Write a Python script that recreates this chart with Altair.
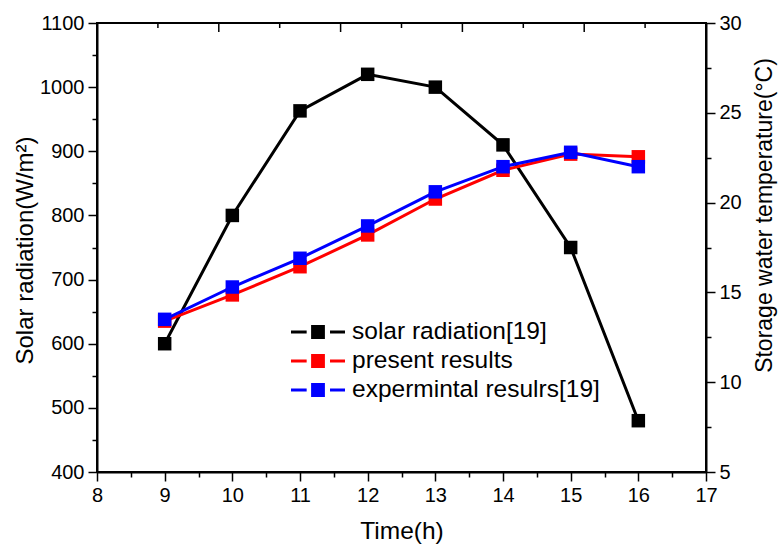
import altair as alt
import pandas as pd

# ---- data ----
time = [9, 10, 11, 12, 13, 14, 15, 16]
solar = [600, 800, 963, 1020, 1000, 910, 750, 480]
present = [13.4, 14.86, 16.43, 18.2, 20.2, 21.8, 22.7, 22.55]
experimental = [13.5, 15.3, 16.9, 18.7, 20.6, 22.0, 22.8, 22.0]

series_names = ["solar radiation[19]", "present results", "expermintal resulrs[19]"]
series_colors = ["#000000", "#ff0000", "#0000ff"]

x_ticks = [8, 8.5, 9, 9.5, 10, 10.5, 11, 11.5, 12, 12.5, 13, 13.5, 14, 14.5, 15, 15.5, 16, 16.5, 17]
left_ticks = [400, 450, 500, 550, 600, 650, 700, 750, 800, 850, 900, 950, 1000, 1050, 1100]
right_ticks = [5, 7.5, 10, 12.5, 15, 17.5, 20, 22.5, 25, 27.5, 30]
top_major = [9.8, 11.6, 13.4, 15.2]
top_minor = [8.9, 10.7, 12.5, 14.3, 16.1]

FONT = "Liberation Sans"

solar_df = pd.DataFrame({"time": time, "value": solar, "series": series_names[0]})
present_df = pd.DataFrame({"time": time, "value": present, "series": series_names[1]})
exp_df = pd.DataFrame({"time": time, "value": experimental, "series": series_names[2]})
top_major_df = pd.DataFrame({"time": top_major})
top_minor_df = pd.DataFrame({"time": top_minor})

x_scale = alt.Scale(domain=[8, 17], nice=False, zero=False)
x_axis = alt.Axis(
    values=x_ticks,
    labelExpr="datum.value % 1 === 0 ? format(datum.value, 'd') : ''",
    tickSize={"condition": {"test": "datum.value % 1 === 0", "value": 9}, "value": 5},
    labelPadding=4,
    labelFlush=False,
    labelOverlap=False,
    title="Time(h)",
    titleFontSize=24.5,
    titleY=66,
    titleBaseline="alphabetic",
    grid=False,
    orient="bottom",
)
x_enc = alt.X("time:Q", scale=x_scale, axis=x_axis)

left_axis = alt.Axis(
    values=left_ticks,
    labelExpr="datum.value % 100 === 0 ? format(datum.value, 'd') : ''",
    tickSize={"condition": {"test": "datum.value % 100 === 0", "value": 9}, "value": 5},
    labelPadding=4,
    labelFlush=False,
    labelOverlap=False,
    title="Solar radiation(W/m²)",
    titleFontSize=24,
    titleAngle=270,
    titleX=-65,
    titleY=227,
    titleAlign="center",
    titleBaseline="alphabetic",
    grid=False,
    orient="left",
)
right_axis = alt.Axis(
    values=right_ticks,
    labelExpr="datum.value % 5 === 0 ? format(datum.value, 'd') : ''",
    tickSize={"condition": {"test": "datum.value % 5 === 0", "value": 9}, "value": 5},
    labelPadding=4,
    labelFlush=False,
    labelOverlap=False,
    title="Storage water temperature(°C)",
    titleFontSize=23,
    titleAngle=270,
    titleX=65,
    titleY=192,
    titleAlign="center",
    titleBaseline="alphabetic",
    grid=False,
    orient="right",
)

left_scale = alt.Scale(domain=[400, 1100], nice=False, zero=False)
right_scale = alt.Scale(domain=[5, 30], nice=False, zero=False)

legend_path = "M-2,0L-0.84,0M0.89,0L2,0M-0.4,-0.4L0.4,-0.4L0.4,0.4L-0.4,0.4Z"
leg = alt.Legend(
    orient="none",
    legendX=206,
    legendY=294,
    title=None,
    symbolType=legend_path,
    symbolSize=729,
    symbolStrokeWidth=3,
    labelFont=FONT,
    labelFontSize=24.5,
    labelColor="black",
    labelOffset=19,
    labelLimit=0,
    rowPadding=2,
    padding=0,
)
stroke_enc = alt.Stroke("series:N", scale=alt.Scale(domain=series_names, range=series_colors), legend=leg)
fill_enc = alt.Fill("series:N", scale=alt.Scale(domain=series_names, range=series_colors), legend=leg)


def pair(df, yscale, yaxis):
    y_enc = alt.Y("value:Q", scale=yscale, axis=yaxis)
    line = alt.Chart(df).mark_line(strokeWidth=3).encode(x=x_enc, y=y_enc, stroke=stroke_enc)
    pts = alt.Chart(df).mark_square(size=182, filled=True, opacity=1).encode(x=x_enc, y=y_enc, fill=fill_enc)
    return line, pts


s_line, s_pts = pair(solar_df, left_scale, left_axis)
p_line, p_pts = pair(present_df, right_scale, right_axis)
e_line, e_pts = pair(exp_df, right_scale, right_axis)

solar_layer = alt.layer(s_line, s_pts)
temp_layer = alt.layer(p_line, p_pts, e_line, e_pts)

top_major_rules = alt.Chart(top_major_df).mark_rule(color="black", strokeWidth=1.5).encode(
    x=x_enc, y=alt.value(0), y2=alt.value(9)
)
top_minor_rules = alt.Chart(top_minor_df).mark_rule(color="black", strokeWidth=1.5).encode(
    x=x_enc, y=alt.value(0), y2=alt.value(5)
)

chart = (
    alt.layer(solar_layer, temp_layer, top_major_rules, top_minor_rules)
    .resolve_scale(y="independent")
    .properties(
        width=609,
        height=449,
        autosize=alt.AutoSizeParams(type="none"),
        padding={"left": 97, "top": 23, "right": 76, "bottom": 74},
        background="white",
    )
    .configure_view(stroke="black", strokeWidth=2)
    .configure_axis(
        labelFont=FONT,
        labelFontSize=20,
        labelColor="black",
        titleFont=FONT,
        titleFontSize=23,
        titleFontWeight="normal",
        titleColor="black",
        domainColor="black",
        domainWidth=2,
        tickColor="black",
        tickWidth=1.5,
    )
)

chart.save("out.html", embed_options={"renderer": "svg", "actions": False})
